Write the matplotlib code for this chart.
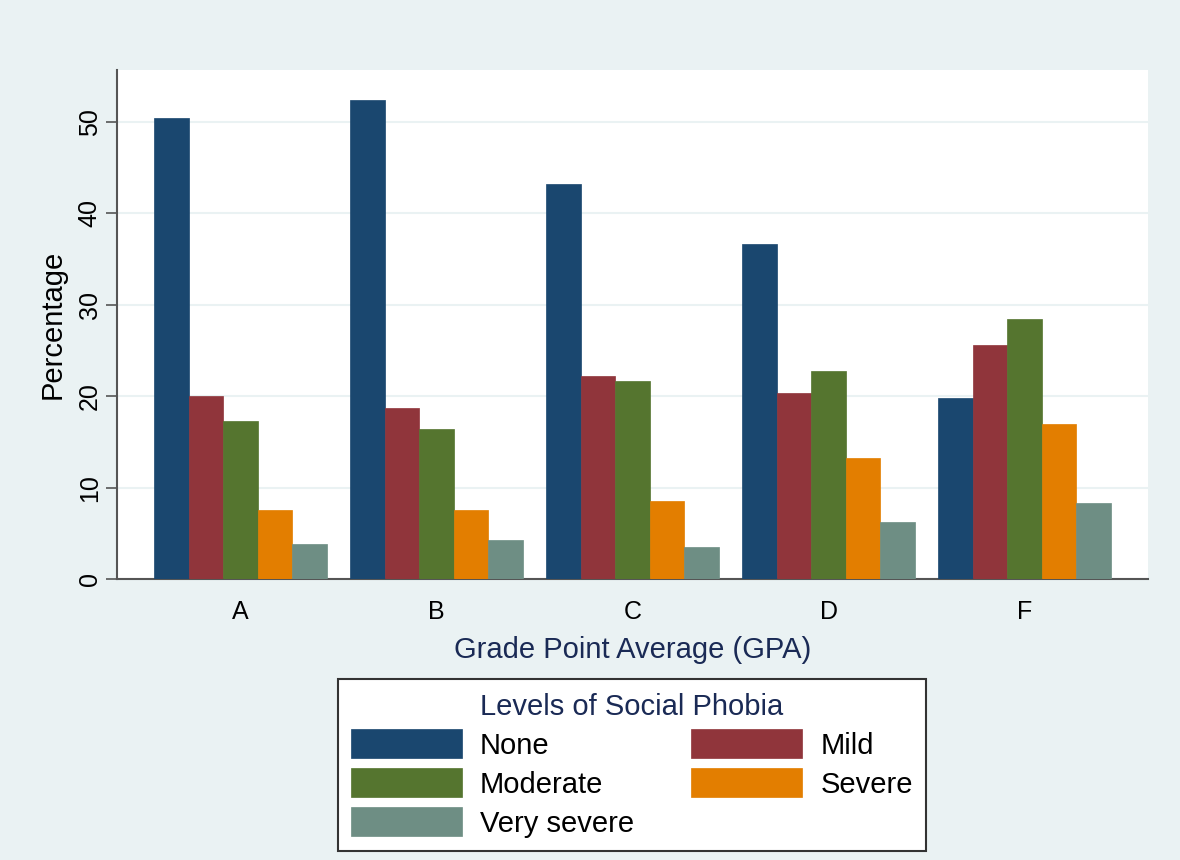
import numpy as np
import matplotlib.pyplot as plt

plt.rcParams['font.family'] = ['Liberation Sans', 'DejaVu Sans']

grades = ['A', 'B', 'C', 'D', 'F']
levels = ['None', 'Mild', 'Moderate', 'Severe', 'Very severe']

none_pct = [50.5, 52.4, 43.2, 36.7, 19.8]
mild_pct = [20.0, 18.7, 22.2, 20.4, 25.6]
moderate_pct = [17.3, 16.4, 21.7, 22.8, 28.4]
severe_pct = [7.5, 7.5, 8.5, 13.2, 17.0]
very_severe_pct = [3.8, 4.3, 3.5, 6.2, 8.3]

series = [none_pct, mild_pct, moderate_pct, severe_pct, very_severe_pct]
colors = ['#1A476F', '#90353B', '#55752F', '#E37E00', '#6E8E84']
bg = '#EAF2F3'
navy_text = '#1A2A55'

fig = plt.figure(figsize=(11.8, 8.6), dpi=100, facecolor=bg)
ax = fig.add_axes([0.0992, 0.3267, 0.8737, 0.5919])
ax.set_facecolor('white')

x = np.arange(len(grades))
width = 0.88 / len(series)
bars = []
for i, (vals, c) in enumerate(zip(series, colors)):
    offset = (i - 2) * width
    b = ax.bar(x + offset, vals, width, color=c, label=levels[i], zorder=3,
               edgecolor=c, linewidth=0.5)
    bars.append(b)

ax.set_xlim(-0.63, 4.63)
ax.set_ylim(0, 55.7)
ax.set_yticks([0, 10, 20, 30, 40, 50])
ax.set_xticks(x)
ax.set_xticklabels(grades)
ax.yaxis.grid(True, color=bg, linewidth=1.5, zorder=0)
ax.tick_params(axis='y', labelsize=18, rotation=90, length=8, width=1.2,
               color='#555555', pad=3)
ax.tick_params(axis='x', labelsize=18, length=0, pad=15)
for lab in ax.get_yticklabels():
    lab.set_verticalalignment('center')

for side in ['top', 'right']:
    ax.spines[side].set_visible(False)
for side in ['left', 'bottom']:
    ax.spines[side].set_color('#555555')
    ax.spines[side].set_linewidth(1.5)

ax.set_ylabel('Percentage', fontsize=21, labelpad=8)
ax.set_xlabel('Grade Point Average (GPA)', fontsize=21, color=navy_text, labelpad=9)

# row-wise legend order: None, Mild / Moderate, Severe / Very severe
order = [0, 2, 4, 1, 3]
leg = fig.legend([bars[k] for k in order], [levels[k] for k in order],
                 ncol=2, loc='lower left',
                 bbox_to_anchor=(0.2864, 0.0105, 0.4983, 0.207),
                 mode='expand', fontsize=21, title='Levels of Social Phobia',
                 title_fontsize=21, handlelength=3.8, handleheight=1.15,
                 frameon=True, fancybox=False, edgecolor='#333333',
                 framealpha=1, facecolor='white',
                 borderaxespad=0, labelspacing=0.3, handletextpad=0.62,
                 borderpad=0.45)
leg.get_frame().set_linewidth(1.5)
leg.get_title().set_color(navy_text)

fig.savefig('out.png', dpi=100, facecolor=bg)
